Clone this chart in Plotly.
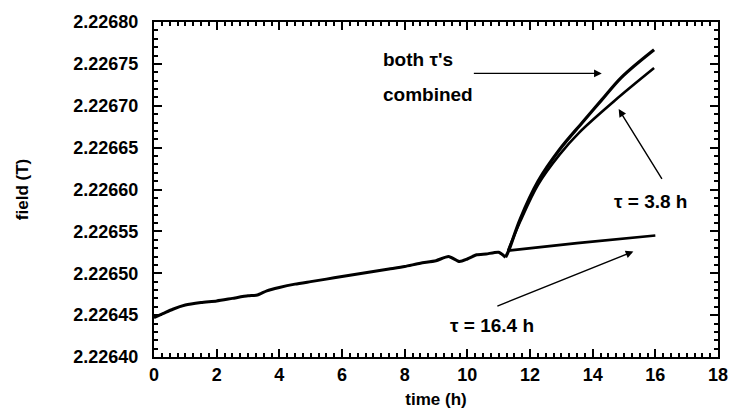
import plotly.graph_objects as go

# measured drift (h, T)
base_t = [0, 0.3, 0.6, 1.0, 1.5, 2.0, 2.5, 3.0, 3.3, 3.6, 4.0, 4.5, 5.0, 5.5, 6.0,
          6.5, 7.0, 7.5, 8.0, 8.5, 9.0, 9.4, 9.75, 10.0, 10.3, 10.6, 11.0, 11.22]
base_B = [2.226447, 2.226452, 2.226457, 2.226462, 2.226465, 2.226467, 2.226470,
          2.226473, 2.226474, 2.226479, 2.226483, 2.226487, 2.226490, 2.226493,
          2.226496, 2.226499, 2.226502, 2.226505, 2.226508, 2.226512, 2.226515,
          2.226520, 2.226514, 2.226517, 2.226522, 2.226523, 2.226525, 2.226519]

# tau = 16.4 h extrapolation
slow_t = [11.3, 13.5, 16.0]
slow_B = [2.226527, 2.226536, 2.226545]

# both taus combined
comb_t = [11.22, 11.32, 11.69, 12.26, 12.95, 13.67, 14.29, 14.92, 15.96]
comb_B = [2.226519, 2.226527, 2.226565, 2.226610, 2.226648, 2.226680, 2.226707,
          2.226734, 2.226767]

# tau = 3.8 h
fast_t = [11.3, 11.69, 12.26, 12.95, 13.57, 14.70, 15.96]
fast_B = [2.226527, 2.226562, 2.226606, 2.226642, 2.226668, 2.226706, 2.226745]

x_ticks = [0, 2, 4, 6, 8, 10, 12, 14, 16, 18]
y_ticks = [2.22640, 2.22645, 2.22650, 2.22655, 2.22660, 2.22665, 2.22670, 2.22675, 2.22680]
X_RANGE = [0, 18]
Y_RANGE = [2.22640, 2.22680]

FONT = "Liberation Sans, Arial, sans-serif"
INK = "black"

fig = go.Figure()
fig.add_trace(go.Scatter(x=base_t, y=base_B, mode="lines",
                         line=dict(color=INK, width=3, shape="spline", smoothing=0.6), showlegend=False))
fig.add_trace(go.Scatter(x=slow_t, y=slow_B, mode="lines", line=dict(color=INK, width=2.6), showlegend=False))
fig.add_trace(go.Scatter(x=comb_t, y=comb_B, mode="lines",
                         line=dict(color=INK, width=3.2, shape="spline", smoothing=1.0), showlegend=False))
fig.add_trace(go.Scatter(x=fast_t, y=fast_B, mode="lines",
                         line=dict(color=INK, width=2.6, shape="spline", smoothing=1.0), showlegend=False))

ann_font = dict(family=FONT, size=19, color=INK, weight="bold")
arrow = dict(showarrow=True, arrowhead=2, arrowsize=1.1, arrowwidth=1.4, arrowcolor=INK,
             axref="x", ayref="y", text="")
fig.add_annotation(x=14.29, y=2.2267386, ax=10.16, ay=2.2267386, **arrow)
fig.add_annotation(x=14.83, y=2.226696, ax=16.24, ay=2.226611, **arrow)
fig.add_annotation(x=15.30, y=2.226526, ax=10.91, ay=2.226460, **arrow)

fig.add_annotation(x=7.24, y=2.226755, text="both τ's", showarrow=False, xanchor="left", font=ann_font)
fig.add_annotation(x=7.24, y=2.226714, text="combined", showarrow=False, xanchor="left", font=ann_font)
fig.add_annotation(x=15.83, y=2.226586, text="τ = 3.8 h", showarrow=False, font=ann_font)
fig.add_annotation(x=10.78, y=2.226438, text="τ = 16.4 h", showarrow=False, font=ann_font)

tick_font = dict(family=FONT, size=18, color=INK, weight="bold")
title_font = dict(family=FONT, size=17, color=INK, weight="bold")

fig.update_xaxes(range=X_RANGE, tickvals=x_ticks, ticktext=[str(v) for v in x_ticks],
                 showgrid=False, zeroline=False, showline=True, linecolor=INK, linewidth=2,
                 mirror="allticks", ticks="inside", ticklen=8, tickwidth=2, tickcolor=INK,
                 tickfont=tick_font,
                 minor=dict(dtick=0.25, tick0=0, ticks="inside", ticklen=4, tickwidth=1.5, tickcolor=INK),
                 title=dict(text="time (h)", font=title_font, standoff=10))
fig.update_yaxes(range=Y_RANGE, tickvals=y_ticks, ticktext=[f"{v:.5f}" for v in y_ticks],
                 showgrid=False, zeroline=False, showline=True, linecolor=INK, linewidth=2,
                 mirror="allticks", ticks="inside", ticklen=8, tickwidth=2, tickcolor=INK,
                 tickfont=tick_font,
                 minor=dict(dtick=0.00001, tick0=2.2264, ticks="inside", ticklen=4, tickwidth=1.5, tickcolor=INK),
                 title=dict(text="field (T)", font=title_font, standoff=40),
                 ticklabelstandoff=10)

fig.update_layout(width=740, height=418, margin=dict(l=154, r=12, t=15, b=58),
                  plot_bgcolor="white", paper_bgcolor="white")
fig.write_html("out.html")
